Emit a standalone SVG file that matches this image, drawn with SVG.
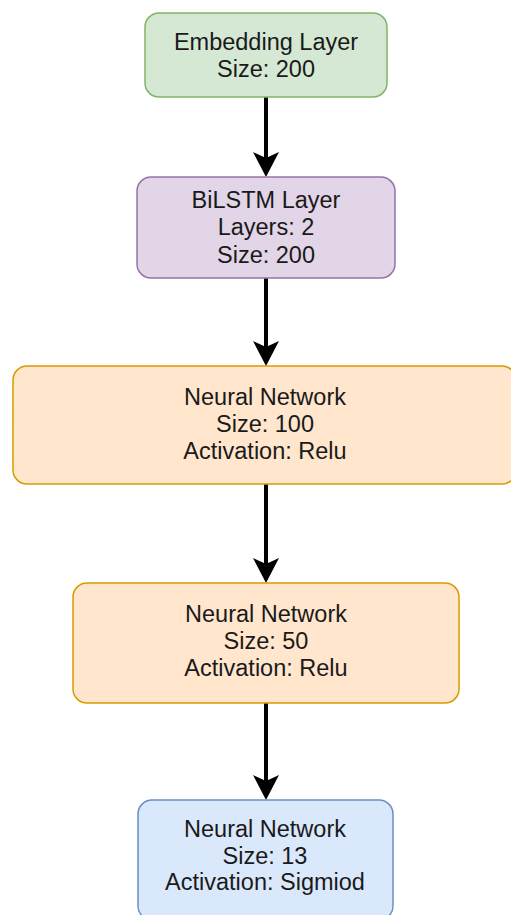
<svg xmlns="http://www.w3.org/2000/svg" width="511" height="915" viewBox="0 0 511 915">
<style>
.t{font-family:"Liberation Sans",Arial,sans-serif;font-size:23.5px;fill:#1a1a1a;text-anchor:middle}
.c{stroke:#000;stroke-width:4;fill:none}
.g{fill:#d5e8d4;stroke:#82b366;stroke-width:1.5}
.p{fill:#e1d5e7;stroke:#9673a6;stroke-width:1.5}
.o{fill:#ffe6cc;stroke:#d79b00;stroke-width:1.5}
.b{fill:#dae8fc;stroke:#6c8ebf;stroke-width:1.5}
</style>
<defs>
<marker id="ah" markerUnits="userSpaceOnUse" viewBox="0 0 26 26" refX="6" refY="13" markerWidth="26" markerHeight="26" orient="auto">
<path d="M0,0 L25,13 L0,26 L6,13 Z" fill="#000"/>
</marker>
</defs>
<rect width="511" height="915" fill="#fff"/>
<g id="connectors">
<line class="c" x1="266" y1="97" x2="266" y2="158" marker-end="url(#ah)"/>
<line class="c" x1="266" y1="278" x2="266" y2="347" marker-end="url(#ah)"/>
<line class="c" x1="266" y1="484" x2="266" y2="564" marker-end="url(#ah)"/>
<line class="c" x1="266" y1="703" x2="266" y2="781" marker-end="url(#ah)"/>
</g>
<g id="embedding">
<rect class="g" x="145" y="13" width="242" height="84" rx="14"/>
<text class="t" x="266" y="50">Embedding Layer</text>
<text class="t" x="266" y="77">Size: 200</text>
</g>
<g id="bilstm">
<rect class="p" x="137" y="177" width="258" height="101" rx="14"/>
<text class="t" x="266" y="208">BiLSTM Layer</text>
<text class="t" x="266" y="235">Layers: 2</text>
<text class="t" x="266" y="263">Size: 200</text>
</g>
<g id="nn100">
<rect class="o" x="13" y="366" width="503" height="118" rx="14"/>
<text class="t" x="265" y="405">Neural Network</text>
<text class="t" x="265" y="432">Size: 100</text>
<text class="t" x="265" y="459">Activation: Relu</text>
</g>
<g id="nn50">
<rect class="o" x="73" y="583" width="386" height="120" rx="14"/>
<text class="t" x="266" y="622">Neural Network</text>
<text class="t" x="266" y="649">Size: 50</text>
<text class="t" x="266" y="676">Activation: Relu</text>
</g>
<g id="nn13">
<rect class="b" x="138" y="800" width="255" height="120" rx="14"/>
<text class="t" x="265" y="837">Neural Network</text>
<text class="t" x="265" y="864">Size: 13</text>
<text class="t" x="265" y="890">Activation: Sigmiod</text>
</g>
</svg>
